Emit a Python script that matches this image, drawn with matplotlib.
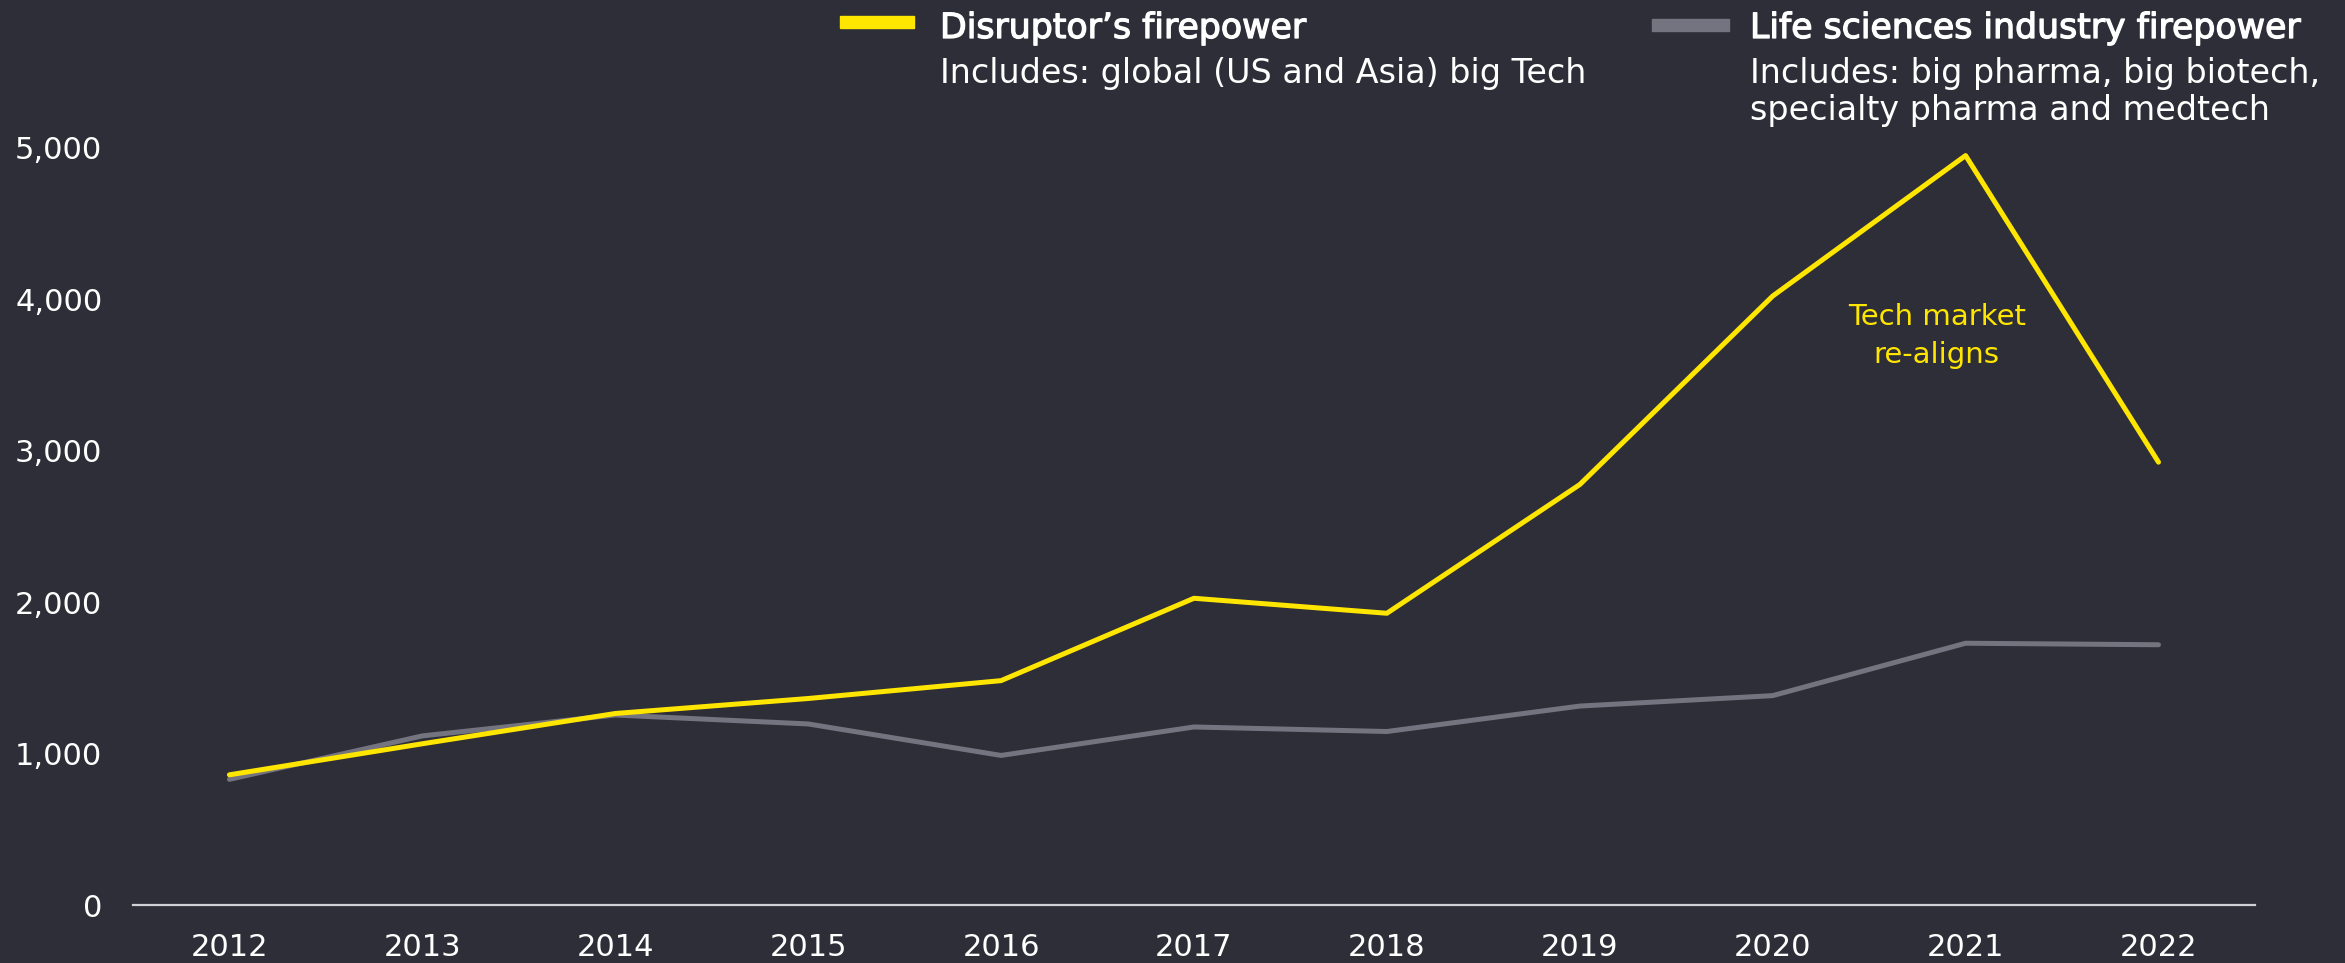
import matplotlib
matplotlib.use("Agg")
import matplotlib.pyplot as plt
import matplotlib.patheffects as pe
from matplotlib.ticker import FuncFormatter

# Data
years = [2012, 2013, 2014, 2015, 2016, 2017, 2018, 2019, 2020, 2021, 2022]
disruptor = [860, 1065, 1265, 1364, 1482, 2026, 1927, 2777, 4022, 4950, 2925]
life_sciences = [830, 1117, 1255, 1196, 988, 1176, 1146, 1314, 1383, 1729, 1719]
y_ticks = [0, 1000, 2000, 3000, 4000, 5000]

bg = "#2e2e38"
yellow = "#ffe600"
grey = "#747480"
text_col = "#ffffff"
font = "DejaVu Sans"

fig = plt.figure(figsize=(23.45, 9.63), dpi=100, facecolor=bg)
ax = fig.add_axes([0.0567, 0.0602, 0.9049, 0.8333], facecolor=bg)

ax.plot(years, disruptor, color=yellow, lw=3.6, solid_capstyle="round", zorder=3)
ax.plot(years, life_sciences, color=grey, lw=3.6, solid_capstyle="round", zorder=2)

ax.set_xlim(2011.5, 2022.5)
ax.set_ylim(0, 5300)
ax.set_xticks(years)
ax.set_yticks(y_ticks)
ax.yaxis.set_major_formatter(FuncFormatter(lambda v, p: f"{int(v):,}"))

for s in ["top", "right", "left"]:
    ax.spines[s].set_visible(False)
ax.spines["bottom"].set_color("#d0d0d6")
ax.spines["bottom"].set_linewidth(1.6)
ax.tick_params(axis="both", length=0, colors=text_col)
ax.tick_params(axis="x", pad=20)
ax.tick_params(axis="y", pad=22)
for lab in ax.get_xticklabels():
    lab.set_fontfamily(font)
    lab.set_fontsize(22)
for lab in ax.get_yticklabels():
    lab.set_fontfamily(font)
    lab.set_fontsize(22)

# Legend drawn by hand at the top
fig.patches.append(plt.Rectangle((840 / 2345, 1 - 28 / 963), 74 / 2345, 12 / 963,
                                 transform=fig.transFigure, color=yellow))
fig.patches.append(plt.Rectangle((1652 / 2345, 1 - 31 / 963), 77 / 2345, 12 / 963,
                                 transform=fig.transFigure, color=grey))
# slightly heavier titles, like the semibold in the reference
heavy = [pe.withStroke(linewidth=0.9, foreground=text_col)]
fig.text(940 / 2345, 1 - 28 / 963, "Disruptor\u2019s firepower", color=text_col,
         fontsize=25, family=font, va="center", ha="left", path_effects=heavy)
fig.text(940 / 2345, 1 - 73 / 963, "Includes: global (US and Asia) big Tech", color=text_col,
         fontsize=24, family=font, va="center", ha="left")
fig.text(1750 / 2345, 1 - 28 / 963, "Life sciences industry firepower", color=text_col,
         fontsize=25, family=font, va="center", ha="left", path_effects=heavy)
fig.text(1750 / 2345, 1 - 92 / 963, "Includes: big pharma, big biotech,\nspecialty pharma and medtech",
         color=text_col, fontsize=24, family=font, va="center", ha="left", linespacing=1.12)

ax.text(2020.85, 3760, "Tech market\nre-aligns", color=yellow, fontsize=21, family=font,
        ha="center", va="center", linespacing=1.45)

plt.savefig("out.png", dpi=100, facecolor=bg)
